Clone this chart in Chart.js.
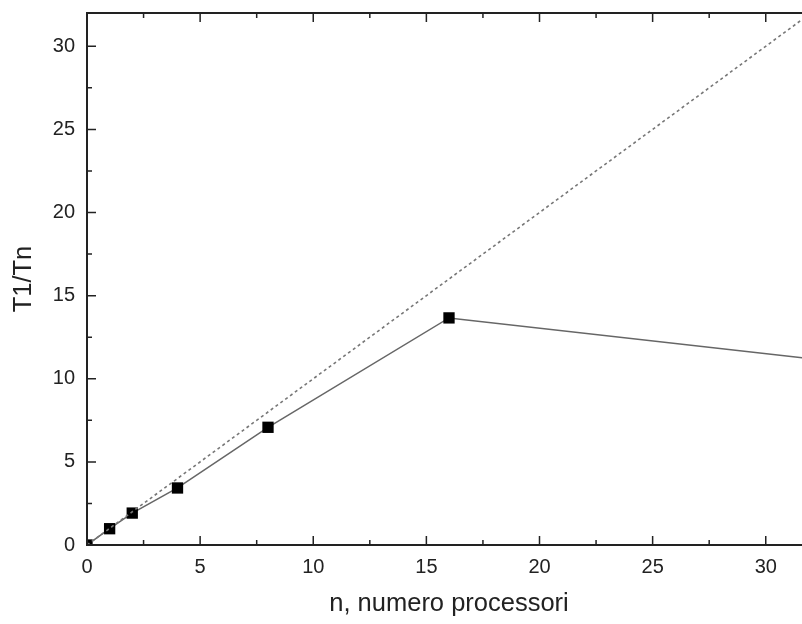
<!DOCTYPE html>
<html>
<head>
<meta charset="utf-8">
<script src="https://cdn.jsdelivr.net/npm/chart.js@4.4.0/dist/chart.umd.min.js"></script>
<style>
  html, body { margin: 0; padding: 0; background: #fff; overflow: hidden; }
  #wrap { width: 802px; height: 624px; overflow: hidden; }
</style>
</head>
<body>
<div id="wrap"><canvas id="chart" width="819" height="624"></canvas></div>
<script>
// measured speedup T1/Tn vs processors
const processors = [0, 1, 2, 4, 8, 16, 32];
const speedup = [0, 0.98, 1.92, 3.43, 7.08, 13.66, 11.2];

// ideal linear speedup
const idealN = [0, 32];
const idealSpeedup = [0, 32];

const xTicks = [0, 5, 10, 15, 20, 25, 30];
const yTicks = [0, 5, 10, 15, 20, 25, 30];

const toPoints = (xs, ys) => xs.map((x, i) => ({ x: x, y: ys[i] }));

// frame + inward ticks, like the original plot
const framePlugin = {
  id: 'frame',
  afterDraw(chart) {
    const { ctx, chartArea: a, scales: { x, y } } = chart;
    const major = 9, minor = 5;
    ctx.save();
    ctx.strokeStyle = '#222';
    ctx.lineWidth = 2;
    ctx.strokeRect(a.left, a.top, a.right - a.left, a.bottom - a.top);

    ctx.lineWidth = 1.5;
    const xMinor = xTicks.map(v => v + 2.5);
    const yMinor = yTicks.map(v => v + 2.5);

    const drawX = (vals, len) => {
      vals.forEach(v => {
        const px = x.getPixelForValue(v);
        if (px <= a.left || px >= a.right) return;
        ctx.beginPath();
        ctx.moveTo(px, a.bottom); ctx.lineTo(px, a.bottom - len);
        ctx.moveTo(px, a.top); ctx.lineTo(px, a.top + len);
        ctx.stroke();
      });
    };
    const drawY = (vals, len) => {
      vals.forEach(v => {
        const py = y.getPixelForValue(v);
        if (py >= a.bottom || py <= a.top) return;
        ctx.beginPath();
        ctx.moveTo(a.left, py); ctx.lineTo(a.left + len, py);
        ctx.moveTo(a.right, py); ctx.lineTo(a.right - len, py);
        ctx.stroke();
      });
    };
    drawX(xTicks, major); drawX(xMinor, minor);
    drawY(yTicks, major); drawY(yMinor, minor);
    ctx.restore();
  }
};

const tickFont = { family: 'Liberation Sans, Arial, sans-serif', size: 20 };
const titleFont = { family: 'Liberation Sans, Arial, sans-serif', size: 25.5 };

new Chart(document.getElementById('chart'), {
  type: 'scatter',
  data: {
    datasets: [
      {
        label: 'ideale',
        data: toPoints(idealN, idealSpeedup),
        showLine: true,
        borderColor: '#777',
        borderWidth: 1.6,
        borderDash: [3, 3],
        pointRadius: 0,
        clip: 0
      },
      {
        label: 'misurato',
        data: toPoints(processors, speedup),
        showLine: true,
        borderColor: '#666',
        borderWidth: 1.5,
        pointStyle: 'rect',
        pointRadius: 8,
        pointBackgroundColor: '#000',
        pointBorderColor: '#000',
        pointBorderWidth: 0,
        clip: 0
      }
    ]
  },
  options: {
    responsive: false,
    animation: false,
    layout: { padding: { top: 13, right: 2, left: 0, bottom: 0 } },
    plugins: {
      legend: { display: false },
      tooltip: { enabled: false }
    },
    scales: {
      x: {
        type: 'linear',
        min: 0,
        max: 32,
        grid: { display: false, drawTicks: false },
        border: { display: false },
        afterBuildTicks: s => { s.ticks = xTicks.map(v => ({ value: v })); },
        afterFit: s => { s.height = 79; s.paddingLeft = 0; s.paddingRight = 0; },
        ticks: { color: '#222', font: tickFont, padding: 10, maxRotation: 0 },
        title: {
          display: true,
          text: 'n, numero processori',
          color: '#222',
          font: titleFont,
          padding: { top: 0, bottom: 5 }
        }
      },
      y: {
        type: 'linear',
        min: 0,
        max: 32,
        grid: { display: false, drawTicks: false },
        border: { display: false },
        afterBuildTicks: s => { s.ticks = yTicks.map(v => ({ value: v })); },
        afterFit: s => { s.width = 87; s.paddingTop = 0; s.paddingBottom = 0; },
        ticks: { color: '#222', font: tickFont, padding: 12 },
        title: {
          display: true,
          text: 'T1/Tn',
          color: '#222',
          font: titleFont,
          padding: { top: 9, bottom: 0 }
        }
      }
    }
  },
  plugins: [framePlugin]
});
</script>
</body>
</html>
